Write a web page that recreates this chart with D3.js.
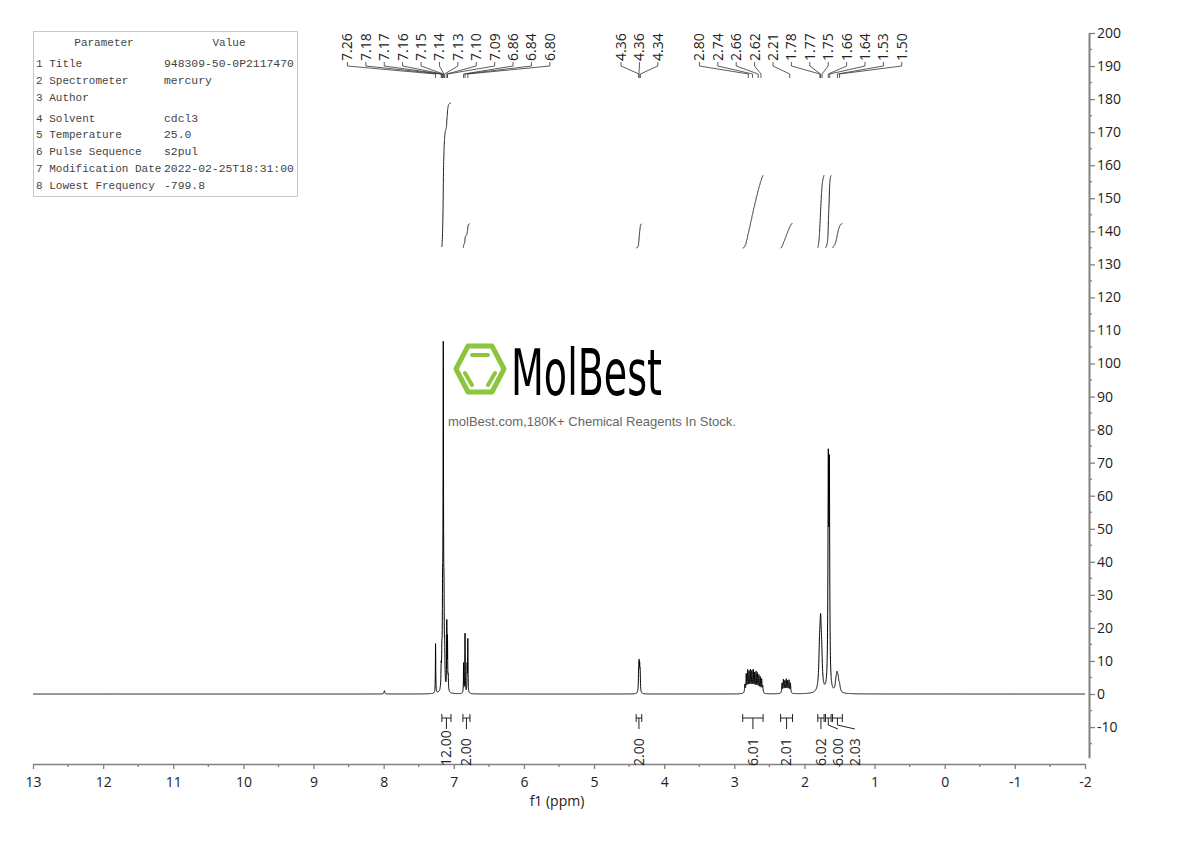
<!DOCTYPE html>
<html>
<head>
<meta charset="utf-8">
<script src="https://cdn.jsdelivr.net/npm/d3@7"></script>
<style>
  body { margin: 0; background: #fff; }
  text { font-family: "Open Sans", "Noto Sans", sans-serif; }
</style>
</head>
<body>
<svg id="chart" width="1190" height="841"></svg>
<script>
// peak list: shift (ppm), height, half width (ppm)
const peakPpm    = [7.99, 7.26, 7.18, 7.17, 7.16, 7.15, 7.14, 7.13, 7.10, 7.09, 7.08,
                    6.86, 6.84, 6.81, 6.80,
                    4.365, 4.358, 4.350, 4.343,
                    2.85, 2.83, 2.81, 2.79, 2.77, 2.75, 2.73, 2.71, 2.69, 2.67, 2.65, 2.63, 2.61, 2.595,
                    2.32, 2.30, 2.28, 2.26, 2.24, 2.22, 2.20,
                    1.785, 1.77, 1.755, 1.66, 1.645,
                    1.55, 1.535, 1.52, 1.50];
const peakHeight = [1.0, 15, 6, 8, 22, 100, 20, 10, 20, 15, 4,
                    9, 18, 8, 16,
                    5.5, 7.5, 6.5, 5.5,
                    2.5, 5.5, 6.5, 6, 6.5, 6, 6.5, 5.5, 6, 5.5, 5, 4.5, 4, 2,
                    3, 4, 3.5, 4, 3.5, 3.8, 3,
                    10, 17, 8, 65, 63,
                    2.8, 4, 3, 1.8];
const peakWidth  = [0.006, 0.003, 0.004, 0.004, 0.004, 0.004, 0.004, 0.004, 0.003, 0.003, 0.004,
                    0.003, 0.003, 0.003, 0.003,
                    0.004, 0.004, 0.004, 0.004,
                    0.005, 0.005, 0.005, 0.005, 0.005, 0.005, 0.005, 0.005, 0.005, 0.005, 0.005, 0.005, 0.005, 0.005,
                    0.005, 0.005, 0.005, 0.005, 0.005, 0.005, 0.005,
                    0.012, 0.012, 0.012, 0.006, 0.006,
                    0.012, 0.012, 0.012, 0.012];

// peak picking labels
const peakLabels = ["7.26", "7.18", "7.17", "7.16", "7.15", "7.14", "7.13", "7.10", "7.09", "6.86", "6.84", "6.80",
                    "4.36", "4.36", "4.34",
                    "2.80", "2.74", "2.66", "2.62",
                    "2.21",
                    "1.78", "1.77", "1.75", "1.66", "1.64", "1.53", "1.50"];

// integrals
const intFrom  = [7.17, 6.87, 4.40, 2.88, 2.34, 1.81, 1.70, 1.60];
const intTo    = [7.04, 6.77, 4.32, 2.59, 2.17, 1.72, 1.62, 1.46];
const intValue = ["12.00", "2.00", "2.00", "6.01", "2.01", "6.02", "6.00", "2.03"];

// parameter table
const paramNames  = ["1 Title", "2 Spectrometer", "3 Author", "4 Solvent", "5 Temperature",
                     "6 Pulse Sequence", "7 Modification Date", "8 Lowest Frequency"];
const paramValues = ["948309-50-0P2117470", "mercury", "", "cdcl3", "25.0",
                     "s2pul", "2022-02-25T18:31:00", "-799.8"];

const xTicks = d3.range(-2, 14, 1);
const yTicks = d3.range(-10, 201, 10);

const svg = d3.select("#chart");

const x = d3.scaleLinear().domain([13, -2]).range([33, 1085]);
const y = d3.scaleLinear().domain([-19.3, 200]).range([757.8, 33]);

const axisColor = "#808080";
const textColor = "#222";

// spectrum = sum of lorentzians
function intensity(p) {
  let s = 0;
  for (let i = 0; i < peakPpm.length; i++) {
    const d = (p - peakPpm[i]) / peakWidth[i];
    s += peakHeight[i] / (1 + d * d);
  }
  return s;
}
const samples = d3.range(13, -2.0005, -0.001).map(p => [p, intensity(p)]);

svg.append("path")
  .datum(samples)
  .attr("fill", "none")
  .attr("stroke", "#000")
  .attr("stroke-width", 1)
  .attr("d", d3.line().x(d => x(d[0])).y(d => y(d[1])));

// x axis
const gx = svg.append("g")
  .attr("transform", "translate(0,764)")
  .call(d3.axisBottom(x).tickValues(xTicks).tickSize(5).tickSizeOuter(0)
    .tickPadding(8).tickFormat(d => String(d)));
gx.select(".domain").attr("stroke", axisColor).attr("stroke-width", 1.5);
gx.selectAll(".tick line").attr("stroke", axisColor).attr("stroke-width", 1.3);
gx.selectAll(".tick text").attr("fill", textColor).style("font-size", "14px")
  .style("font-family", "'Open Sans', sans-serif");
gx.selectAll(".minor")
  .data(d3.range(-1.5, 13, 1))
  .join("line")
  .attr("x1", d => x(d)).attr("x2", d => x(d))
  .attr("y1", 0).attr("y2", 3)
  .attr("stroke", axisColor).attr("stroke-width", 1.3);

svg.append("text")
  .attr("x", 557).attr("y", 806)
  .attr("text-anchor", "middle")
  .attr("fill", textColor)
  .style("font-size", "14px")
  .text("f1 (ppm)");

// y axis
const gy = svg.append("g")
  .attr("transform", "translate(1089,0)")
  .call(d3.axisRight(y).tickValues(yTicks).tickSize(6).tickSizeOuter(0)
    .tickPadding(2).tickFormat(d => String(d)));
gy.select(".domain").attr("stroke", axisColor).attr("stroke-width", 2);
gy.selectAll(".tick line").attr("stroke", axisColor).attr("stroke-width", 1.3);
gy.selectAll(".tick text").attr("fill", textColor).style("font-size", "14px")
  .style("font-family", "'Open Sans', sans-serif");
gy.selectAll(".minor")
  .data(d3.range(-15, 200, 10))
  .join("line")
  .attr("x1", 0).attr("x2", 3)
  .attr("y1", d => y(d)).attr("y2", d => y(d))
  .attr("stroke", axisColor).attr("stroke-width", 1.3);

// peak labels, spread in clusters around their peaks
function spreadCentered(targets, gap) {
  let groups = targets.map(t => ({ sum: t, n: 1 }));
  let again = true;
  while (again) {
    again = false;
    for (let i = 0; i < groups.length - 1; i++) {
      const a = groups[i], b = groups[i + 1];
      const aEnd = a.sum / a.n + (a.n - 1) * gap / 2;
      const bStart = b.sum / b.n - (b.n - 1) * gap / 2;
      if (bStart - aEnd < gap) {
        groups.splice(i, 2, { sum: a.sum + b.sum, n: a.n + b.n });
        again = true;
        break;
      }
    }
  }
  const out = [];
  groups.forEach(g => {
    const c = g.sum / g.n;
    for (let k = 0; k < g.n; k++) out.push(c - (g.n - 1) * gap / 2 + k * gap);
  });
  return out;
}

const peakX = peakLabels.map(l => x(+l));
const labelX = spreadCentered(peakX, 18.4);

const gp = svg.append("g");
gp.selectAll("path")
  .data(peakLabels)
  .join("path")
  .attr("fill", "none")
  .attr("stroke", "#333")
  .attr("stroke-width", 0.8)
  .attr("d", (d, i) => `M${labelX[i]},62V66L${peakX[i]},74V78`);
gp.selectAll("text")
  .data(peakLabels)
  .join("text")
  .attr("transform", (d, i) => `translate(${labelX[i]},61) rotate(-90)`)
  .attr("dy", "0.35em")
  .attr("fill", textColor)
  .style("font-size", "14px")
  .text(d => d);

// integral curves
const intBase = 248, intScale = 12.1;
const gi = svg.append("g");
intValue.forEach((v, i) => {
  const seg = samples.filter(s => s[0] <= intFrom[i] && s[0] >= intTo[i]);
  let cum = 0;
  const pts = seg.map(s => { cum += s[1]; return [s[0], cum]; });
  const total = cum;
  gi.append("path")
    .datum(pts)
    .attr("fill", "none")
    .attr("stroke", "#222")
    .attr("stroke-width", 1)
    .attr("d", d3.line()
      .x(d => x(d[0]))
      .y(d => intBase - d[1] / total * (+v) * intScale));
});

// integral brackets and labels
const intCenter = intValue.map((v, i) => x((intFrom[i] + intTo[i]) / 2));
const intLabelX = [];
intCenter.forEach((c, i) => {
  intLabelX.push(i === 0 ? c : Math.max(c, intLabelX[i - 1] + 17));
});
const gb = svg.append("g")
  .attr("fill", "none")
  .attr("stroke", "#222")
  .attr("stroke-width", 1);
intValue.forEach((v, i) => {
  const a = x(intFrom[i]), b = x(intTo[i]), c = intCenter[i];
  gb.append("path")
    .attr("d", `M${a},718H${b}M${a},714V722M${b},714V722M${c},718V725L${intLabelX[i]},729`);
});
svg.append("g").selectAll("text")
  .data(intValue)
  .join("text")
  .attr("transform", (d, i) => `translate(${intLabelX[i]},766) rotate(-90)`)
  .attr("dy", "0.35em")
  .attr("fill", textColor)
  .style("font-size", "14px")
  .text(d => d);

// parameter table
const gt = svg.append("g");
gt.append("rect")
  .attr("x", 33.5).attr("y", 31.5)
  .attr("width", 264).attr("height", 165)
  .attr("fill", "#fff").attr("stroke", "#c8c8c8");
const monoFont = "'Liberation Mono', 'DejaVu Sans Mono', monospace";
gt.append("text").attr("x", 104).attr("y", 46).attr("text-anchor", "middle")
  .style("font-family", monoFont).style("font-size", "11px").attr("fill", "#444").text("Parameter");
gt.append("text").attr("x", 229).attr("y", 46).attr("text-anchor", "middle")
  .style("font-family", monoFont).style("font-size", "11px").attr("fill", "#444").text("Value");
const rowY = [67, 84, 101, 122, 138, 155, 172, 189];
gt.selectAll(".pname")
  .data(paramNames)
  .join("text")
  .attr("x", 36).attr("y", (d, i) => rowY[i])
  .style("font-family", monoFont).style("font-size", "11px")
  .attr("fill", "#444")
  .text(d => d);
gt.selectAll(".pval")
  .data(paramValues)
  .join("text")
  .attr("x", 164).attr("y", (d, i) => rowY[i])
  .style("font-family", monoFont).style("font-size", "11.4px")
  .attr("fill", "#444")
  .text(d => d);

// watermark logo
const green = "#8cc63f";
const cx = 480, cy = 369;
const hex = [[cx - 24, cy], [cx - 12, cy - 23], [cx + 12, cy - 23], [cx + 24, cy], [cx + 12, cy + 23], [cx - 12, cy + 23]];
svg.append("path")
  .attr("d", d3.line()(hex) + "Z")
  .attr("fill", "none").attr("stroke", green).attr("stroke-width", 5)
  .attr("stroke-linejoin", "round");
svg.append("path")
  .attr("d", `M${cx - 8},${cy - 14}H${cx + 8}M${cx - 15},${cy + 4}L${cx - 8},${cy + 16}M${cx + 15},${cy + 4}L${cx + 8},${cy + 16}`)
  .attr("fill", "none").attr("stroke", green).attr("stroke-width", 4)
  .attr("stroke-linecap", "round");
svg.append("text")
  .attr("x", 511).attr("y", 395)
  .attr("textLength", 151).attr("lengthAdjust", "spacingAndGlyphs")
  .style("font-family", "'DejaVu Sans Condensed', 'DejaVu Sans', sans-serif")
  .style("font-size", "64px")
  .attr("fill", "#000")
  .text("MolBest");
svg.append("text")
  .attr("x", 448).attr("y", 426)
  .style("font-family", "'Liberation Sans', Arial, sans-serif")
  .style("font-size", "13px")
  .attr("fill", "#666")
  .text("molBest.com,180K+ Chemical Reagents In Stock.");
</script>
</body>
</html>
